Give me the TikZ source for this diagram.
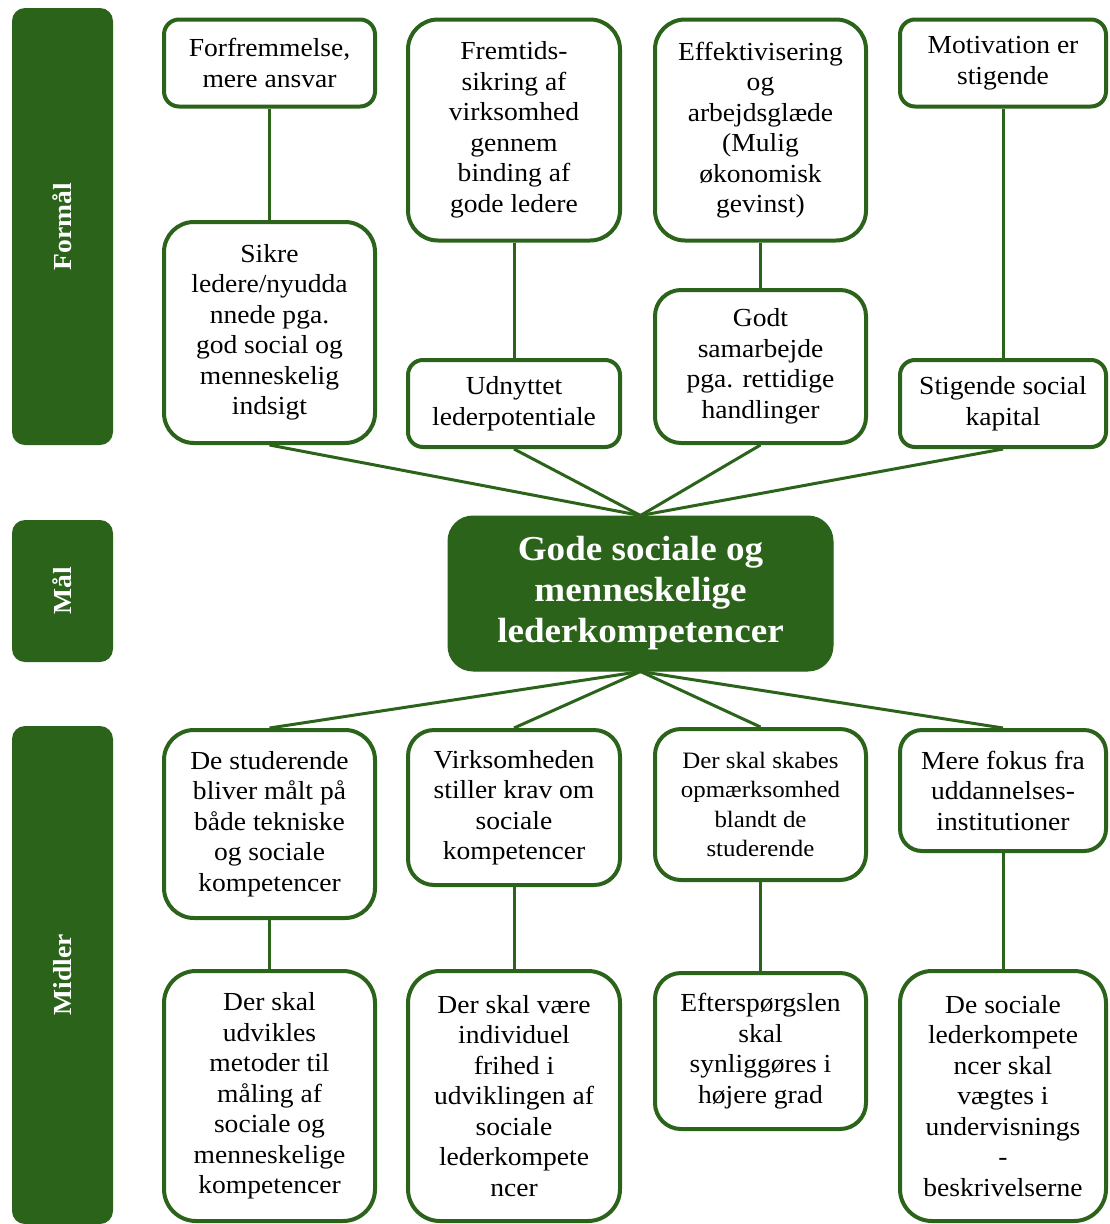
\documentclass[tikz,border=0pt]{standalone}
\usepackage{fontspec}
\setmainfont{Liberation Serif}[FakeStretch=1.06]
\usetikzlibrary{backgrounds}
\definecolor{leafgreen}{RGB}{43,99,26}

\tikzset{
  box/.style={draw=leafgreen, line width=4pt, fill=white, rounded corners=#1,
    align=center, inner sep=0pt, text=black,
    font=\fontsize{26}{30.5}\selectfont},
  box/.default=15pt,
  small text/.style={font=\fontsize{23.5}{29.5}\selectfont},
  sidebar/.style={fill=leafgreen, rounded corners=13pt, inner sep=0pt,
    text=white, font=\fontsize{26}{30}\selectfont\bfseries, rotate=90},
  goalbox/.style={fill=leafgreen, draw=leafgreen, line width=1pt, rounded corners=25pt,
    align=center, inner sep=0pt, text=white,
    font=\fontsize{35}{41}\selectfont\bfseries},
  link/.style={draw=leafgreen, line width=3pt}
}

\begin{document}
\begin{tikzpicture}[x=1pt, y=-1pt]
\useasboundingbox (0,0) rectangle (1110,1224);

% side bars
\node[sidebar, minimum width=437pt, minimum height=101pt] (formal) at (62.5,226.5) {Formål};
\node[sidebar, minimum width=142pt, minimum height=101pt] (maal) at (62.5,591) {Mål};
\node[sidebar, minimum width=498pt, minimum height=101pt] (midler) at (62.5,975) {Midler};

% purposes, upper row
\node[box=15pt, minimum width=211pt, minimum height=87pt] (f1) at (269.5,63)
  {Forfremmelse,\\mere ansvar};
\node[box=30pt, minimum width=212pt, minimum height=221pt] (f2) at (514,130)
  {Fremtids-\\sikring af\\virksomhed\\gennem\\binding af\\gode ledere};
\node[box=30pt, minimum width=211pt, minimum height=221pt] (f3) at (760.5,130)
  {Effektivisering\\og\\arbejdsglæde\\(Mulig\\økonomisk\\gevinst)};
\node[box=15pt, minimum width=206pt, minimum height=87pt] (f4) at (1003,63)
  {Motivation er\\stigende};

% purposes, lower row
\node[box=30pt, minimum width=211pt, minimum height=221pt] (g1) at (269.5,332.5)
  {Sikre\\ledere/nyudda\\nnede pga.\\god social og\\menneskelig\\indsigt};
\node[box=15pt, minimum width=212pt, minimum height=87pt] (g2) at (514,403.5)
  {Udnyttet\\lederpotentiale};
\node[box=26pt, minimum width=211pt, minimum height=153pt] (g3) at (760.5,366.5)
  {Godt\\samarbejde\\pga. rettidige\\handlinger};
\node[box=15pt, minimum width=206pt, minimum height=87pt] (g4) at (1003,403.5)
  {Stigende social\\kapital};

% goal
\node[goalbox, minimum width=385pt, minimum height=155pt] (goal) at (640.5,593.5)
  {Gode sociale og\\menneskelige\\lederkompetencer};

% means, upper row
\node[box=30pt, minimum width=211pt, minimum height=188pt] (m1) at (269.5,824)
  {De studerende\\bliver målt på\\både tekniske\\og sociale\\kompetencer};
\node[box=26pt, minimum width=212pt, minimum height=155pt] (m2) at (514,807.5)
  {Virksomheden\\stiller krav om\\sociale\\kompetencer};
\node[box=26pt, small text, minimum width=211pt, minimum height=151pt] (m3) at (760.5,804.5)
  {Der skal skabes\\opmærksomhed\\blandt de\\studerende};
\node[box=22pt, minimum width=206pt, minimum height=121pt] (m4) at (1003,790.5)
  {Mere fokus fra\\uddannelses-\\institutioner};

% means, lower row
\node[box=32pt, minimum width=211pt, minimum height=250pt] (n1) at (269.5,1096)
  {Der skal\\udvikles\\metoder til\\måling af\\sociale og\\menneskelige\\kompetencer};
\node[box=32pt, minimum width=212pt, minimum height=250pt] (n2) at (514,1096)
  {Der skal være\\individuel\\frihed i\\udviklingen af\\sociale\\lederkompete\\ncer};
\node[box=26pt, minimum width=211pt, minimum height=156pt] (n3) at (760.5,1051)
  {Efterspørgslen\\skal\\synliggøres i\\højere grad};
\node[box=32pt, minimum width=206pt, minimum height=250pt] (n4) at (1003,1096)
  {De sociale\\lederkompete\\ncer skal\\vægtes i\\undervisnings\\-\\beskrivelserne};

% connectors
\begin{scope}[on background layer]
  \foreach \a/\b in {f1/g1, f2/g2, f3/g3, f4/g4, m1/n1, m2/n2, m3/n3, m4/n4}
    \draw[link] (\a.south) -- (\b.north);
  \foreach \a in {g1, g2, g3, g4}
    \draw[link] (\a.south) -- (goal.north);
  \foreach \b in {m1, m2, m3, m4}
    \draw[link] (goal.south) -- (\b.north);
\end{scope}
\end{tikzpicture}
\end{document}
